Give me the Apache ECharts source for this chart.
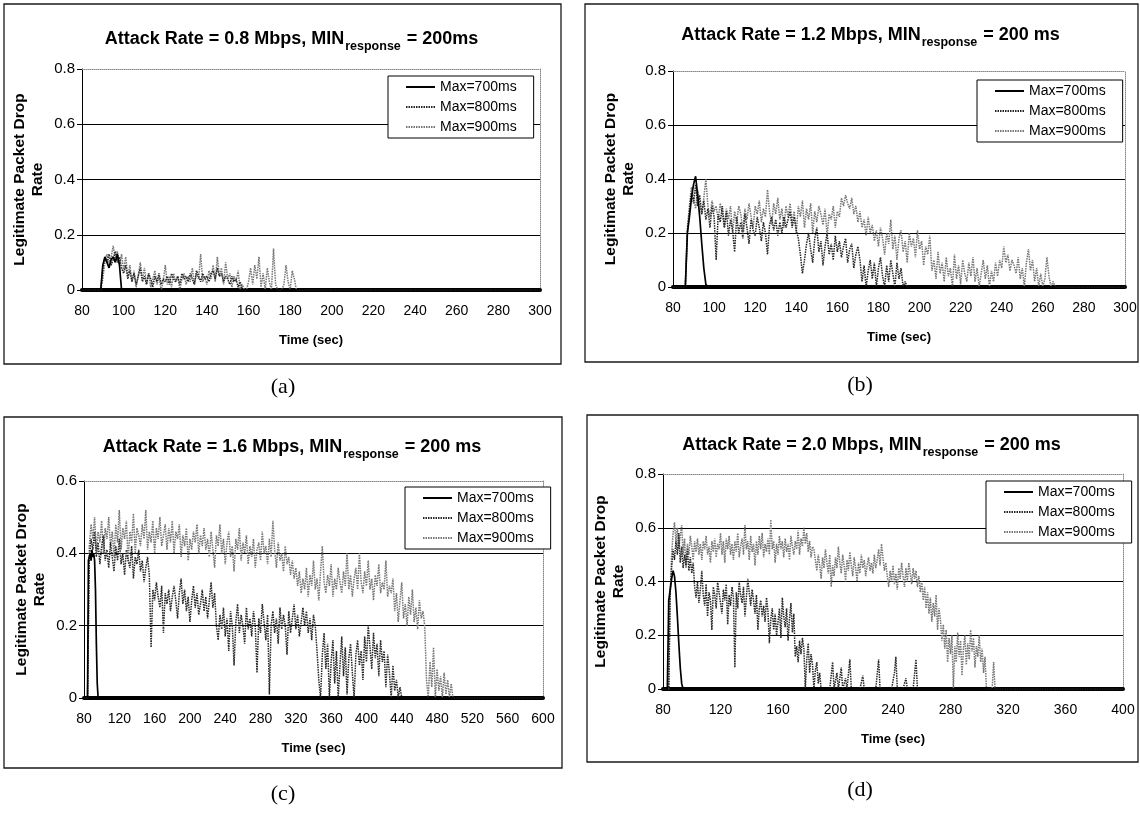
<!DOCTYPE html>
<html>
<head>
<meta charset="utf-8">
<script src="https://cdn.jsdelivr.net/npm/echarts@6/dist/echarts.min.js"></script>
<style>
  html, body { margin: 0; padding: 0; background: #fff; }
  #chart { width: 1140px; height: 814px; }
</style>
</head>
<body>
<div id="chart"></div>
<script>
// ---- shared labels ----
const seriesNames = ['Max=700ms', 'Max=800ms', 'Max=900ms'];
const panelLetters = ['(a)', '(b)', '(c)', '(d)'];
const attackRates = ['0.8', '1.2', '1.6', '2.0'];
const minResponse = ['200ms', '200 ms', '200 ms', '200 ms'];
const xMins = [80, 80, 80, 80];
const xMaxs = [300, 300, 600, 400];
const xIntervals = [20, 20, 40, 40];
const yMaxs = [0.8, 0.8, 0.6, 0.8];

// ---- (a) attack rate 0.8 Mbps: sample start time (s), sample step (s), drop rates ----
const a700Start = 89, a700Step = 1;
const a700 = [0, 0.09, 0.12, 0.1, 0.08, 0.11, 0.12, 0.1, 0.13, 0.09, 0];
const a800Start = 89, a800Step = 1;
const a800 = [0, 0.08, 0.12, 0.1, 0.13, 0.09, 0.11, 0.14, 0.1, 0.12, 0.08, 0.06, 0.09, 0.04, 0.07, 0.03, 0.06, 0.02, 0.05, 0.08,
  0.03, 0.05, 0.02, 0.06, 0.04, 0.01, 0.05, 0.03, 0.06, 0.02, 0.04, 0.03, 0.05, 0.02, 0.06, 0.04, 0.03, 0.05, 0.02, 0.06,
  0.04, 0.05, 0.03, 0.06, 0.04, 0.02, 0.07, 0.05, 0.03, 0.06, 0.04, 0.05, 0.03, 0.06, 0.07, 0.04, 0.08, 0.05, 0.06, 0.03,
  0.05, 0.04, 0.02, 0.05, 0.03, 0.04, 0.01, 0.03, 0, 0];
const a900Start = 89, a900Step = 1;
const a900 = [0, 0.04, 0.1, 0.13, 0.09, 0.12, 0.16, 0.11, 0.14, 0.09, 0.13, 0.07, 0.12, 0.05, 0.09, 0.03, 0.07, 0.01, 0.05, 0.1,
  0.04, 0.08, 0.02, 0.06, 0.01, 0.04, 0.07, 0.02, 0.05, 0, 0.03, 0.09, 0.02, 0.05, 0.01, 0.06, 0.03, 0.05, 0, 0.04,
  0.06, 0.02, 0.05, 0.03, 0.08, 0.02, 0.06, 0.04, 0.13, 0.03, 0.05, 0.02, 0.07, 0.04, 0.09, 0.03, 0.12, 0.05, 0.08, 0.02,
  0.1, 0.04, 0.06, 0.01, 0.05, 0.03, 0.07, 0, 0.02, 0, 0, 0.03, 0.08, 0.02, 0.09, 0.04, 0.12, 0.01, 0.06, 0,
  0.08, 0.03, 0, 0.15, 0.02, 0, 0, 0, 0.02, 0.09, 0.03, 0, 0.07, 0.04, 0];

// ---- (b) attack rate 1.2 Mbps ----
const b700Start = 86, b700Step = 1;
const b700 = [0, 0.2, 0.26, 0.33, 0.38, 0.41, 0.34, 0.26, 0.16, 0.07, 0.01, 0];
const b800Start = 86, b800Step = 1;
const b800 = [0, 0.2, 0.28, 0.35, 0.31, 0.38, 0.3, 0.34, 0.27, 0.32, 0.25, 0.29, 0.22, 0.3, 0.26, 0.1, 0.27, 0.24, 0.3, 0.22,
  0.28, 0.19, 0.25, 0.21, 0.13, 0.26, 0.2, 0.24, 0.18, 0.27, 0.22, 0.16, 0.25, 0.21, 0.19, 0.26, 0.22, 0.17, 0.24, 0.2,
  0.12, 0.23, 0.26, 0.21, 0.25, 0.19, 0.24, 0.2, 0.26, 0.22, 0.25, 0.28, 0.22, 0.26, 0.21, 0.18, 0.12, 0.05, 0.1, 0.16,
  0.2, 0.14, 0.09, 0.18, 0.22, 0.13, 0.17, 0.08, 0.15, 0.2, 0.12, 0.16, 0.1, 0.19, 0.13, 0.17, 0.11, 0.15, 0.18, 0.09,
  0.14, 0.16, 0.07, 0.12, 0.15, 0.1, 0.02, 0.08, 0, 0.06, 0.1, 0.03, 0.09, 0, 0.07, 0.11, 0.04, 0, 0.08, 0.02,
  0.1, 0.05, 0, 0.09, 0.03, 0.07, 0, 0.02, 0];
const b900Start = 86, b900Step = 1;
const b900 = [0, 0.22, 0.3, 0.37, 0.33, 0.29, 0.36, 0.31, 0.27, 0.33, 0.4, 0.3, 0.26, 0.32, 0.28, 0.3, 0.25, 0.31, 0.27, 0.22,
  0.29, 0.25, 0.3, 0.2, 0.28, 0.24, 0.3, 0.27, 0.21, 0.29, 0.25, 0.31, 0.26, 0.22, 0.3, 0.27, 0.32, 0.24, 0.29, 0.26,
  0.36, 0.28, 0.23, 0.31, 0.27, 0.33, 0.25, 0.29, 0.22, 0.3, 0.26, 0.31, 0.24, 0.28, 0.2, 0.3, 0.26, 0.32, 0.22, 0.29,
  0.25, 0.31, 0.2, 0.28, 0.24, 0.3, 0.27, 0.23, 0.29, 0.19, 0.27, 0.25, 0.3, 0.22, 0.28, 0.26, 0.33, 0.3, 0.34, 0.31,
  0.29, 0.33, 0.27, 0.3, 0.24, 0.28, 0.22, 0.25, 0.19, 0.26, 0.2, 0.23, 0.17, 0.21, 0.15, 0.22, 0.18, 0.12, 0.2, 0.16,
  0.25, 0.14, 0.19, 0.1, 0.18, 0.21, 0.13, 0.17, 0.09, 0.2, 0.15, 0.18, 0.11, 0.21, 0.14, 0.17, 0.08, 0.15, 0.12, 0.19,
  0.06, 0.1, 0.03, 0.13, 0.05, 0.09, 0.02, 0.11, 0.04, 0.07, 0, 0.12, 0.03, 0.08, 0.01, 0.1, 0.05, 0.02, 0.09, 0.04,
  0.11, 0.02, 0.07, 0, 0.05, 0.1, 0.03, 0.08, 0, 0.06, 0.02, 0.09, 0.04, 0.1, 0.07, 0.15, 0.09, 0.12, 0.06, 0.1,
  0.08, 0.05, 0.11, 0.03, 0.07, 0, 0.09, 0.14, 0.06, 0.1, 0.02, 0.07, 0, 0.05, 0, 0.03, 0.11, 0.04, 0, 0.02, 0];

// ---- (c) attack rate 1.6 Mbps ----
const c700Start = 84, c700Step = 1;
const c700 = [0, 0.38, 0.39, 0.4, 0.38, 0.41, 0.39, 0.4, 0.38, 0.3, 0.15, 0.04, 0];
const c800Start = 84, c800Step = 2;
const c800 = [0,
  0.38, 0.44, 0.41, 0.46, 0.39, 0.43, 0.37, 0.42, 0.45, 0.38, 0.41, 0.36, 0.43, 0.39, 0.35, 0.42, 0.38, 0.44, 0.37, 0.4,
  0.34, 0.41, 0.38, 0.36, 0.42, 0.33, 0.39, 0.37, 0.41, 0.35, 0.38, 0.32, 0.36, 0.39, 0.34,
  0.14, 0.3, 0.27, 0.32, 0.28, 0.25, 0.31, 0.18, 0.29, 0.26, 0.3, 0.24, 0.28, 0.31, 0.27, 0.22, 0.29, 0.33, 0.26, 0.3,
  0.24, 0.28, 0.21, 0.27, 0.31, 0.25, 0.29, 0.23, 0.26, 0.3, 0.24, 0.28, 0.22, 0.27, 0.32, 0.25, 0.29,
  0.2, 0.16, 0.23, 0.19, 0.25, 0.17, 0.22, 0.13, 0.24, 0.2, 0.09, 0.21, 0.26, 0.18, 0.23, 0.2, 0.15, 0.25, 0.19, 0.22,
  0.17, 0.24, 0.2, 0.07, 0.22, 0.18, 0.26, 0.21, 0.16, 0.23, 0.01, 0.2, 0.24, 0.18, 0.22, 0.15, 0.25, 0.19, 0.23, 0.2,
  0.12, 0.24, 0.18, 0.22, 0.26, 0.19, 0.23, 0.17, 0.21, 0.25, 0.2, 0.24, 0.18, 0.22, 0.16, 0.23, 0.2, 0.13,
  0.05, 0, 0.12, 0.18, 0.08, 0.15, 0, 0.1, 0.16, 0.04, 0.13, 0, 0.09, 0.17, 0.06, 0.14, 0.01, 0.11, 0.15, 0.07,
  0, 0.12, 0.16, 0.09, 0.13, 0.05, 0.17, 0.1, 0.2, 0.14, 0.08, 0.18, 0.11, 0.15, 0.06, 0.16, 0.1, 0.13, 0.03, 0.12,
  0.07, 0, 0.09, 0.02, 0.05, 0, 0.03, 0];
const c900Start = 84, c900Step = 2;
const c900 = [0,
  0.42, 0.48, 0.44, 0.5, 0.41, 0.46, 0.43, 0.49, 0.4, 0.47, 0.44, 0.5, 0.42, 0.46, 0.39, 0.48, 0.43, 0.52, 0.41, 0.47,
  0.44, 0.49, 0.38, 0.46, 0.43, 0.51, 0.4, 0.47, 0.45, 0.42, 0.48, 0.44, 0.52, 0.41, 0.46, 0.43, 0.49, 0.4, 0.47, 0.44,
  0.5, 0.42, 0.45, 0.48, 0.41, 0.47, 0.43, 0.49, 0.4, 0.46, 0.44, 0.48, 0.39, 0.45, 0.42, 0.47, 0.38, 0.44, 0.41, 0.46,
  0.43, 0.48, 0.4, 0.45, 0.42, 0.47, 0.41,
  0.44, 0.39, 0.46, 0.41, 0.36, 0.45, 0.42, 0.48, 0.4, 0.44, 0.37, 0.43, 0.46, 0.39, 0.42, 0.35, 0.44, 0.41, 0.47, 0.38,
  0.43, 0.4, 0.45, 0.37, 0.42, 0.39, 0.44, 0.36, 0.41, 0.43, 0.38, 0.46, 0.4, 0.42, 0.37, 0.44, 0.39, 0.49, 0.41, 0.36,
  0.43, 0.38, 0.4, 0.35, 0.42, 0.37, 0.39, 0.34, 0.38, 0.33, 0.36,
  0.31, 0.35, 0.29, 0.33, 0.3, 0.36, 0.28, 0.34, 0.31, 0.38, 0.3, 0.33, 0.27, 0.35, 0.42, 0.32, 0.29, 0.34, 0.31, 0.37,
  0.28, 0.33, 0.3, 0.36, 0.32, 0.29, 0.35, 0.31, 0.4, 0.3, 0.34, 0.28, 0.33, 0.36, 0.3, 0.4, 0.32, 0.29, 0.35, 0.31,
  0.38, 0.3, 0.33, 0.27, 0.34, 0.31, 0.37, 0.29, 0.32, 0.3, 0.38, 0.28, 0.31, 0.29, 0.33,
  0.24, 0.29, 0.21, 0.27, 0.32, 0.22, 0.26, 0.2, 0.28, 0.23, 0.3, 0.21, 0.25, 0.19, 0.27, 0.22, 0.24, 0.2,
  0.05, 0, 0.1, 0.03, 0.14, 0, 0.08, 0.02, 0.06, 0, 0.07, 0.01, 0.05, 0, 0.04, 0, 0, 0];

// ---- (d) attack rate 2.0 Mbps ----
const d700Start = 83, d700Step = 1;
const d700 = [0, 0.33, 0.37, 0.41, 0.44, 0.42, 0.36, 0.27, 0.17, 0.08, 0.02, 0];
const d800Start = 84, d800Step = 1;
const d800 = [0,
  0.36, 0.45, 0.52, 0.48, 0.55, 0.5, 0.58, 0.47, 0.53, 0.45, 0.5, 0.46, 0.52, 0.44, 0.49, 0.43, 0.47,
  0.38, 0.34, 0.4, 0.32, 0.37, 0.44, 0.35, 0.31, 0.39, 0.27, 0.36, 0.33, 0.22, 0.38, 0.35, 0.3, 0.4, 0.36, 0.32, 0.28,
  0.37, 0.33, 0.39, 0.24, 0.35, 0.31, 0.38, 0.34, 0.08, 0.36, 0.3, 0.4, 0.35, 0.32, 0.38, 0.27, 0.34, 0.41, 0.36, 0.31,
  0.37, 0.33, 0.28, 0.35, 0.22, 0.3, 0.33, 0.27, 0.31, 0.25, 0.34, 0.29, 0.17, 0.26, 0.3, 0.22, 0.28, 0.2, 0.25,
  0.3, 0.19, 0.34, 0.27, 0.23, 0.3, 0.18, 0.26, 0.32, 0.21, 0.28, 0.12, 0.16, 0.1, 0.18, 0.13, 0.19, 0.15, 0, 0.11,
  0.17, 0.06, 0.13, 0.09, 0, 0.07, 0.1, 0.02, 0.06, 0,
  0, 0, 0, 0, 0, 0, 0, 0.1, 0, 0, 0.06, 0, 0, 0.08, 0, 0, 0.04, 0, 0, 0.11,
  0, 0, 0, 0, 0, 0, 0, 0, 0.05, 0, 0, 0, 0, 0, 0, 0, 0, 0, 0, 0.11,
  0, 0, 0, 0, 0, 0, 0, 0, 0, 0, 0.06, 0.12, 0, 0, 0, 0, 0, 0, 0.04, 0,
  0, 0, 0, 0, 0, 0.11, 0, 0];
const d900Start = 84, d900Step = 1;
const d900 = [0,
  0.35, 0.5, 0.58, 0.62, 0.55, 0.6, 0.52, 0.57, 0.61, 0.5, 0.56, 0.45, 0.54, 0.5, 0.57, 0.53, 0.48, 0.55, 0.51, 0.56,
  0.5, 0.54, 0.48, 0.55, 0.52, 0.57, 0.5, 0.53, 0.47, 0.55, 0.51, 0.56, 0.49, 0.54, 0.52, 0.58, 0.5, 0.55, 0.47, 0.56,
  0.52, 0.57, 0.5, 0.54, 0.48, 0.55, 0.51, 0.58, 0.49, 0.53, 0.56, 0.5, 0.61, 0.52, 0.55, 0.48, 0.57, 0.51, 0.54, 0.46,
  0.55, 0.5, 0.57, 0.52, 0.58, 0.49, 0.54, 0.51, 0.56, 0.5, 0.63, 0.52, 0.55, 0.47, 0.54, 0.5, 0.57, 0.52, 0.55, 0.49,
  0.56, 0.51, 0.54, 0.48, 0.57, 0.53, 0.5, 0.55, 0.52, 0.59, 0.5, 0.56, 0.53, 0.6, 0.54, 0.58, 0.51, 0.55, 0.49, 0.53, 0.52,
  0.48, 0.44, 0.5, 0.46, 0.41, 0.49, 0.45, 0.52, 0.47, 0.43, 0.5, 0.38, 0.46, 0.42, 0.49, 0.45, 0.53, 0.47, 0.43, 0.5,
  0.46, 0.4, 0.48, 0.44, 0.51, 0.46, 0.42, 0.49, 0.45, 0.4, 0.47, 0.43, 0.5, 0.45, 0.48, 0.42, 0.46, 0.49, 0.44, 0.47,
  0.43, 0.5, 0.45, 0.48, 0.52, 0.46, 0.54, 0.49, 0.44, 0.47, 0.42, 0.38, 0.44, 0.4, 0.46, 0.39, 0.43, 0.37, 0.45, 0.41,
  0.47, 0.42, 0.38, 0.45, 0.4, 0.47, 0.43, 0.39, 0.45, 0.41, 0.44, 0.38, 0.42, 0.36, 0.4, 0.33, 0.38,
  0.3, 0.36, 0.28, 0.34, 0.25, 0.32, 0.27, 0.35, 0.22, 0.3, 0.26, 0.18, 0.24,
  0.15, 0.22, 0.1, 0.19, 0.13, 0.2, 0, 0.16, 0.1, 0.21, 0.12, 0.18, 0.05, 0.15, 0.2, 0.09, 0.17, 0.11, 0.22, 0.14,
  0.19, 0.08, 0.16, 0.12, 0.2, 0.1, 0.15, 0.06, 0.12, 0,
  0, 0, 0, 0, 0.1, 0, 0];

// per panel: [start, step, values] for 700 / 800 / 900 ms
const panelSeries = [
  [[a700Start, a700Step, a700], [a800Start, a800Step, a800], [a900Start, a900Step, a900]],
  [[b700Start, b700Step, b700], [b800Start, b800Step, b800], [b900Start, b900Step, b900]],
  [[c700Start, c700Step, c700], [c800Start, c800Step, c800], [c900Start, c900Step, c900]],
  [[d700Start, d700Step, d700], [d800Start, d800Step, d800], [d900Start, d900Step, d900]]
];

// ---- layout ----
const grids = [
  { left: 82, top: 69, width: 458, height: 221 },
  { left: 673, top: 71, width: 452, height: 216 },
  { left: 84, top: 481, width: 459, height: 217 },
  { left: 663, top: 474, width: 460, height: 215 }
];
const frames = [
  { x: 4, y: 4, w: 557, h: 360 },
  { x: 585, y: 4, w: 553, h: 358 },
  { x: 4, y: 417, w: 558, h: 351 },
  { x: 587, y: 415, w: 551, h: 347 }
];
const legendPos = [
  { left: 388, top: 76 },
  { left: 977, top: 80 },
  { left: 405, top: 487 },
  { left: 986, top: 481 }
];
const titleTops = [25, 21, 433, 431];
const captionPos = [{ x: 283, y: 387 }, { x: 860, y: 385 }, { x: 283, y: 794 }, { x: 860, y: 790 }];

const FONT = '"Liberation Sans", Arial, Helvetica, sans-serif';
const SERIF = '"Liberation Serif", "Times New Roman", serif';

const lineStyles = [
  { color: '#000', width: 1.7, type: 'solid' },
  { color: '#262626', width: 1.5, type: [1.5, 1] },
  { color: '#767676', width: 1.5, type: [1.5, 1] }
];
const zOrder = [5, 4, 3];

function toPoints(start, step, values, xmin, xmax) {
  const pts = [[xmin, 0]];
  values.forEach((v, i) => pts.push([start + i * step, v]));
  pts.push([xmax, 0]);
  return pts;
}

const option = {
  animation: false,
  backgroundColor: '#fff',
  title: [], legend: [], grid: [], xAxis: [], yAxis: [], series: [], graphic: []
};

for (let p = 0; p < 4; p++) {
  const g = grids[p];
  option.grid.push({
    left: g.left, top: g.top, width: g.width, height: g.height,
    show: false
  });

  option.title.push({
    text: '{m|Attack Rate = ' + attackRates[p] + ' Mbps, MIN}{s|response}{m| = ' + minResponse[p] + '}',
    left: frames[p].x + frames[p].w / 2 + 4,
    textAlign: 'center',
    top: titleTops[p],
    textStyle: {
      rich: {
        m: { fontFamily: FONT, fontWeight: 'bold', fontSize: 18, color: '#000', lineHeight: 21, verticalAlign: 'top' },
        s: { fontFamily: FONT, fontWeight: 'bold', fontSize: 12.5, color: '#000', lineHeight: 14, verticalAlign: 'top', padding: [10, 1, 0, 1] }
      }
    }
  });

  // main axes
  option.xAxis.push({
    type: 'value', gridIndex: p, min: xMins[p], max: xMaxs[p], interval: xIntervals[p],
    name: 'Time (sec)', nameLocation: 'middle', nameGap: 44,
    nameTextStyle: { fontFamily: FONT, fontWeight: 'bold', fontSize: 13, color: '#000' },
    axisLine: { show: true, onZero: false, lineStyle: { color: '#000', width: 4 } },
    axisTick: { show: false },
    axisLabel: { fontFamily: FONT, fontSize: 14, color: '#000', margin: 14 },
    splitLine: { show: false }
  });
  option.yAxis.push({
    type: 'value', gridIndex: p, min: 0, max: yMaxs[p], interval: 0.2,
    name: 'Legitimate Packet Drop\nRate', nameLocation: 'middle', nameGap: 35, nameRotate: 90,
    nameTextStyle: { fontFamily: FONT, fontWeight: 'bold', fontSize: 15.5, color: '#000', lineHeight: 18 },
    axisLine: { show: true, lineStyle: { color: '#000', width: 1 } },
    axisTick: { show: true, inside: false, length: 5, lineStyle: { color: '#000' } },
    axisLabel: { fontFamily: FONT, fontSize: 15, color: '#000', margin: 7, formatter: v => (v === 0 ? '0' : v.toFixed(1)) },
    splitLine: { show: true, showMinLine: false, showMaxLine: false, lineStyle: { color: '#000', width: 1 } }
  });
}

// dotted plot-area edges (top and right) on secondary axes
for (let p = 0; p < 4; p++) {
  option.xAxis.push({
    type: 'value', gridIndex: p, position: 'top', min: xMins[p], max: xMaxs[p],
    axisLine: { show: true, onZero: false, lineStyle: { color: '#8a8a8a', width: 1, type: 'dotted' } },
    axisTick: { show: false }, axisLabel: { show: false }, splitLine: { show: false }
  });
  option.yAxis.push({
    type: 'value', gridIndex: p, position: 'right', min: 0, max: yMaxs[p],
    axisLine: { show: true, onZero: false, lineStyle: { color: '#8a8a8a', width: 1, type: 'dotted' } },
    axisTick: { show: false }, axisLabel: { show: false }, splitLine: { show: false }
  });
}

for (let p = 0; p < 4; p++) {
  for (let s = 0; s < 3; s++) {
    const [start, step, vals] = panelSeries[p][s];
    option.series.push({
      type: 'line', name: seriesNames[s],
      xAxisIndex: p, yAxisIndex: p,
      data: toPoints(start, step, vals, xMins[p], xMaxs[p]),
      showSymbol: false, symbol: 'none',
      z: zOrder[s],
      lineStyle: lineStyles[s],
      itemStyle: { color: lineStyles[s].color },
      emphasis: { disabled: true }
    });
  }

  option.legend.push({
    data: seriesNames,
    orient: 'vertical',
    left: legendPos[p].left, top: legendPos[p].top,
    backgroundColor: '#fff', borderColor: '#000', borderWidth: 1,
    padding: [4, 17, 4, 17],
    itemWidth: 29, itemHeight: 14, itemGap: 6,
    selectedMode: false,
    itemStyle: { opacity: 0 },
    textStyle: { fontFamily: FONT, fontSize: 14, color: '#000' },
    z: 10
  });

  option.graphic.push({
    type: 'rect',
    shape: { x: frames[p].x, y: frames[p].y, width: frames[p].w, height: frames[p].h },
    style: { fill: 'none', stroke: '#1a1a1a', lineWidth: 1.3 },
    silent: true, z: 0
  });
  option.graphic.push({
    type: 'text',
    x: captionPos[p].x, y: captionPos[p].y,
    style: { text: panelLetters[p], font: '22px ' + SERIF, fill: '#000', textAlign: 'center', textVerticalAlign: 'middle' },
    silent: true
  });
}

const chart = echarts.init(document.getElementById('chart'), null, { renderer: 'canvas' });
chart.setOption(option);
</script>
</body>
</html>
